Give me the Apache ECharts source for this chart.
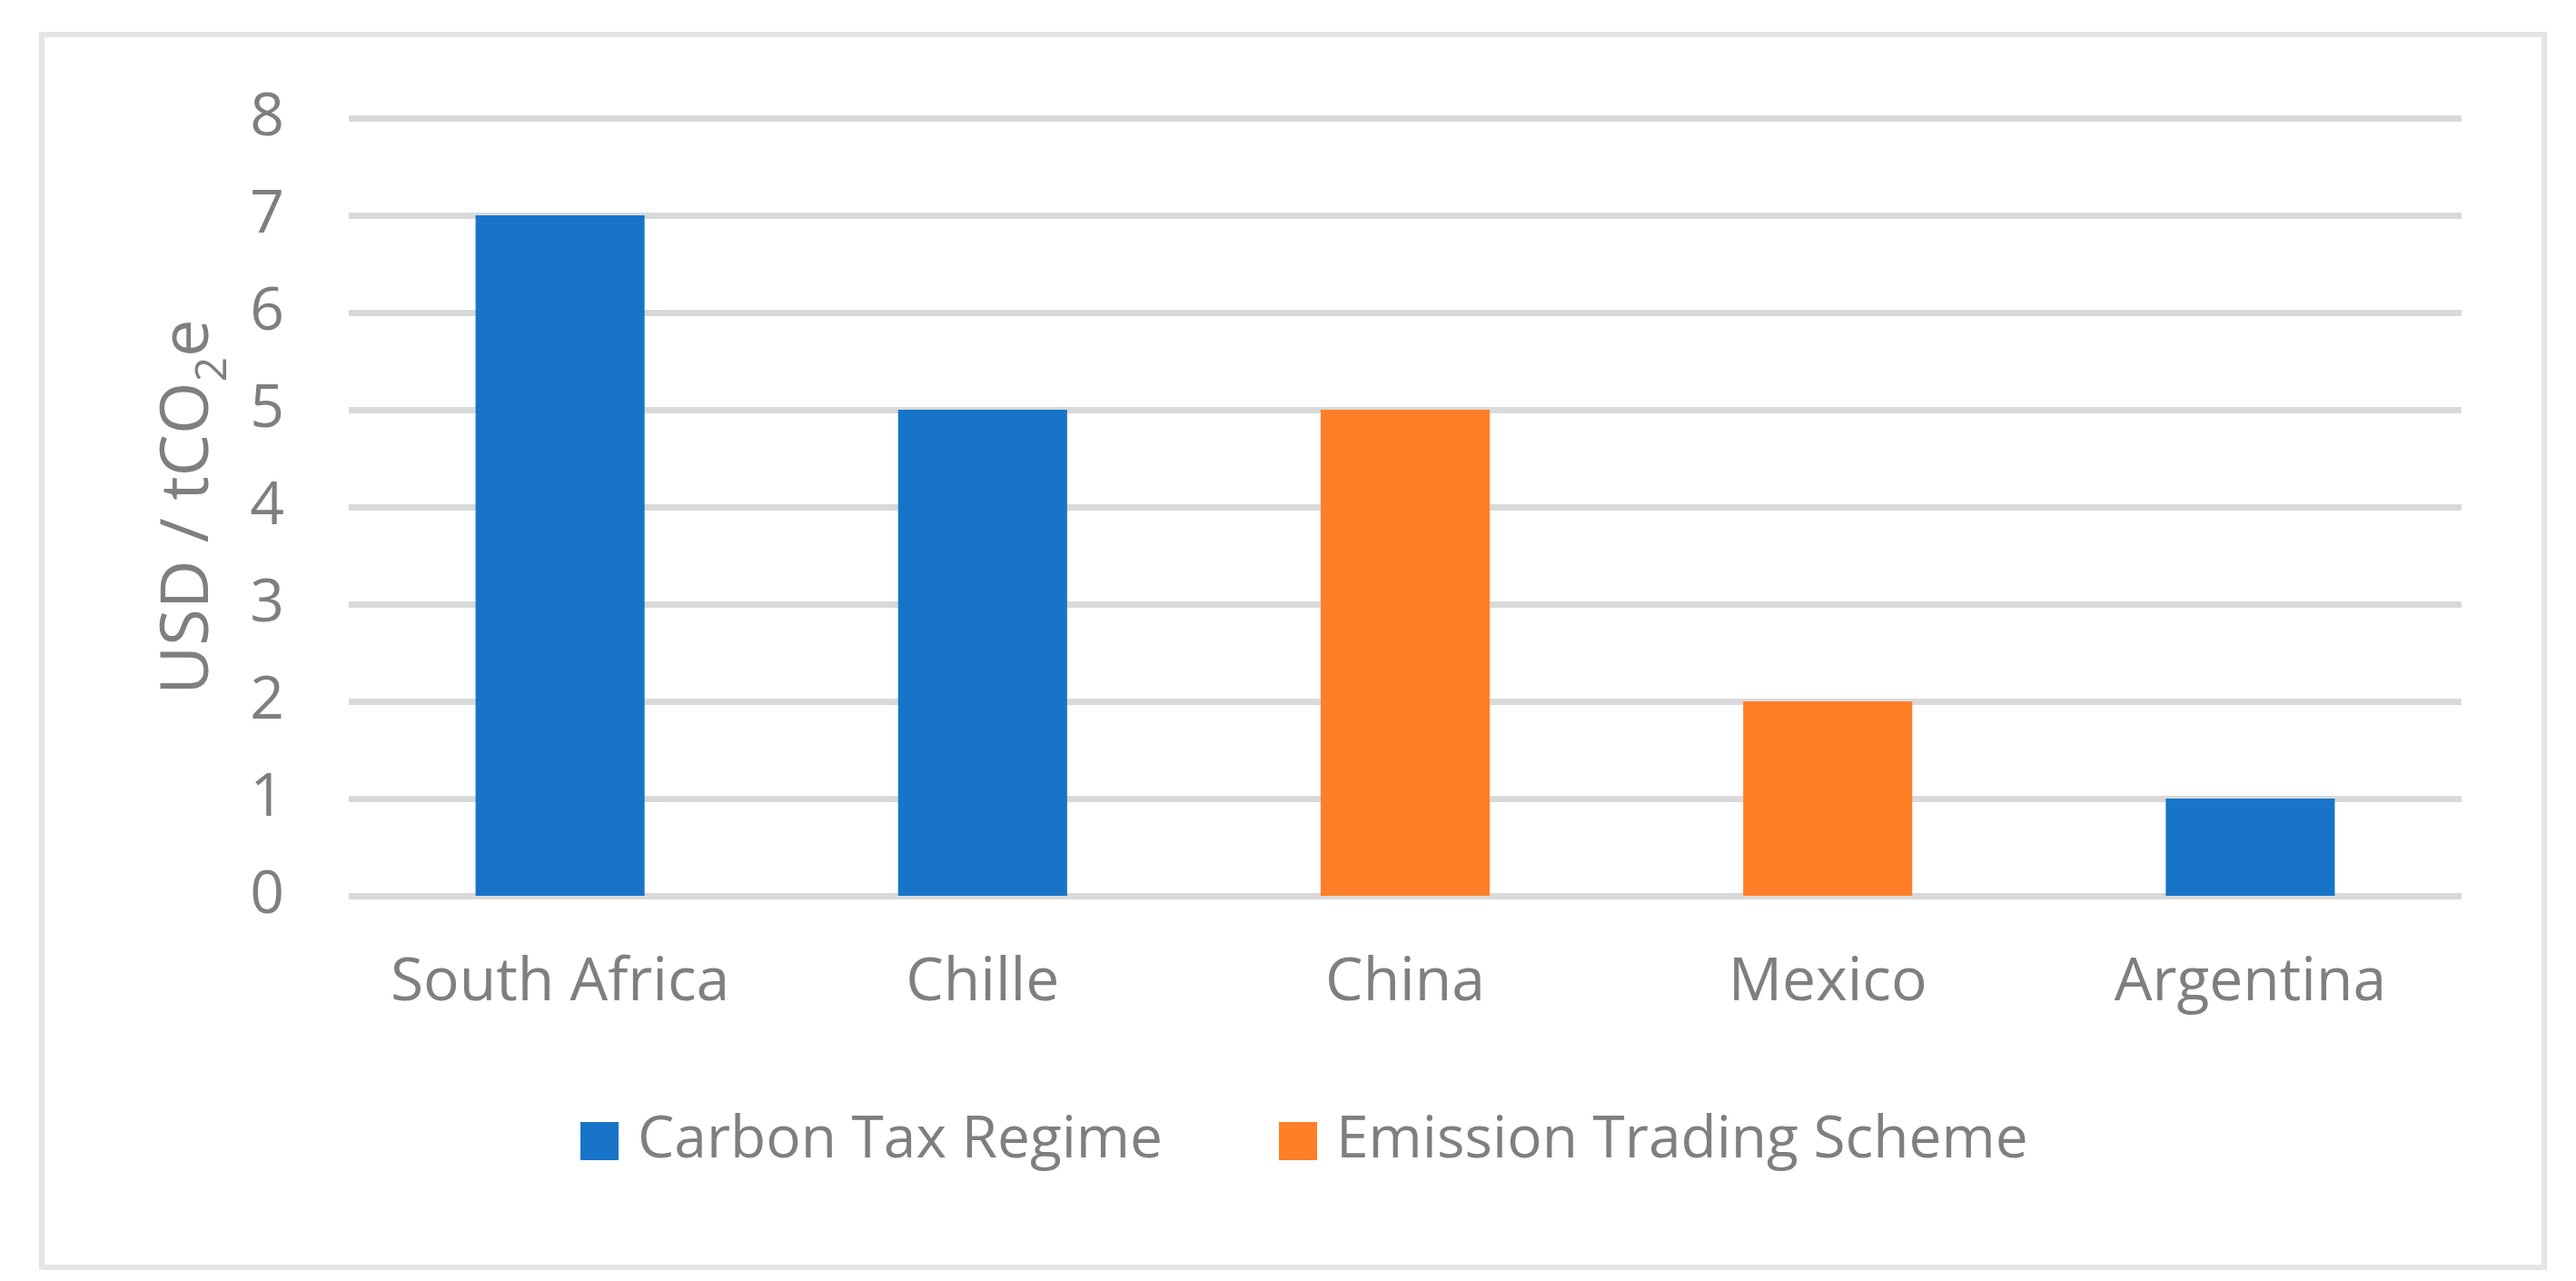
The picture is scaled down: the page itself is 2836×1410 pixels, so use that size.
<!DOCTYPE html>
<html>
<head>
<meta charset="utf-8">
<title>Carbon price</title>
<script src="https://cdn.jsdelivr.net/npm/echarts@6/dist/echarts.min.js"></script>
<style>
  html, body { margin: 0; padding: 0; background: #fff; }
  #chart { width: 2836px; height: 1410px; }
</style>
</head>
<body>
<div id="chart"></div>
<script>
// data
var countries = ["South Africa", "Chille", "China", "Mexico", "Argentina"];
var carbonTax = [7, 5, "-", "-", 1];
var emissionTrading = ["-", "-", 5, 2, "-"];
var seriesNames = ["Carbon Tax Regime", "Emission Trading Scheme"];

var grey = "#7f7f7f";
var font = "Open Sans";

var myChart = echarts.init(document.getElementById("chart"));

var option = {
  backgroundColor: "#fff",
  animation: false,
  color: ["#1874c8", "#fe7f27"],
  textStyle: { fontFamily: font },
  graphic: [{
    type: "rect",
    shape: { x: 46, y: 38, width: 2755, height: 1357 },
    style: { fill: null, stroke: "#e5e5e5", lineWidth: 6 },
    silent: true
  }],
  grid: {
    left: 384,
    right: 126,
    top: 130,
    bottom: 424
  },
  legend: {
    left: 634,
    top: 1219,
    itemWidth: 42,
    itemHeight: 42,
    itemGap: 128,
    icon: "rect",
    data: seriesNames,
    textStyle: {
      color: grey,
      fontFamily: font,
      fontSize: 64,
      padding: [0, 0, 0, 16]
    }
  },
  xAxis: [{
    type: "category",
    data: countries,
    axisLine: { show: false },
    axisTick: { show: false },
    axisLabel: {
      interval: 0,
      color: grey,
      fontFamily: font,
      fontSize: 66,
      margin: 63
    }
  }],
  yAxis: [{
    type: "value",
    min: 0,
    max: 8,
    interval: 1,
    name: "USD / tCO{sub|2}e",
    nameLocation: "middle",
    nameGap: 125,
    nameTextStyle: {
      color: grey,
      fontFamily: font,
      fontSize: 74,
      rich: {
        sub: {
          color: grey,
          fontFamily: font,
          fontSize: 48,
          verticalAlign: "bottom",
          padding: [54, 0, 0, 0]
        }
      }
    },
    axisLine: { show: false },
    axisTick: { show: false },
    axisLabel: {
      color: grey,
      fontFamily: font,
      fontSize: 66,
      margin: 71
    },
    splitLine: {
      lineStyle: { color: "#d9d9d9", width: 7 }
    }
  }],
  series: [
    {
      name: seriesNames[0],
      type: "bar",
      stack: "total",
      barWidth: "40%",
      data: carbonTax
    },
    {
      name: seriesNames[1],
      type: "bar",
      stack: "total",
      barWidth: "40%",
      data: emissionTrading
    }
  ]
};

myChart.setOption(option);
</script>
</body>
</html>
